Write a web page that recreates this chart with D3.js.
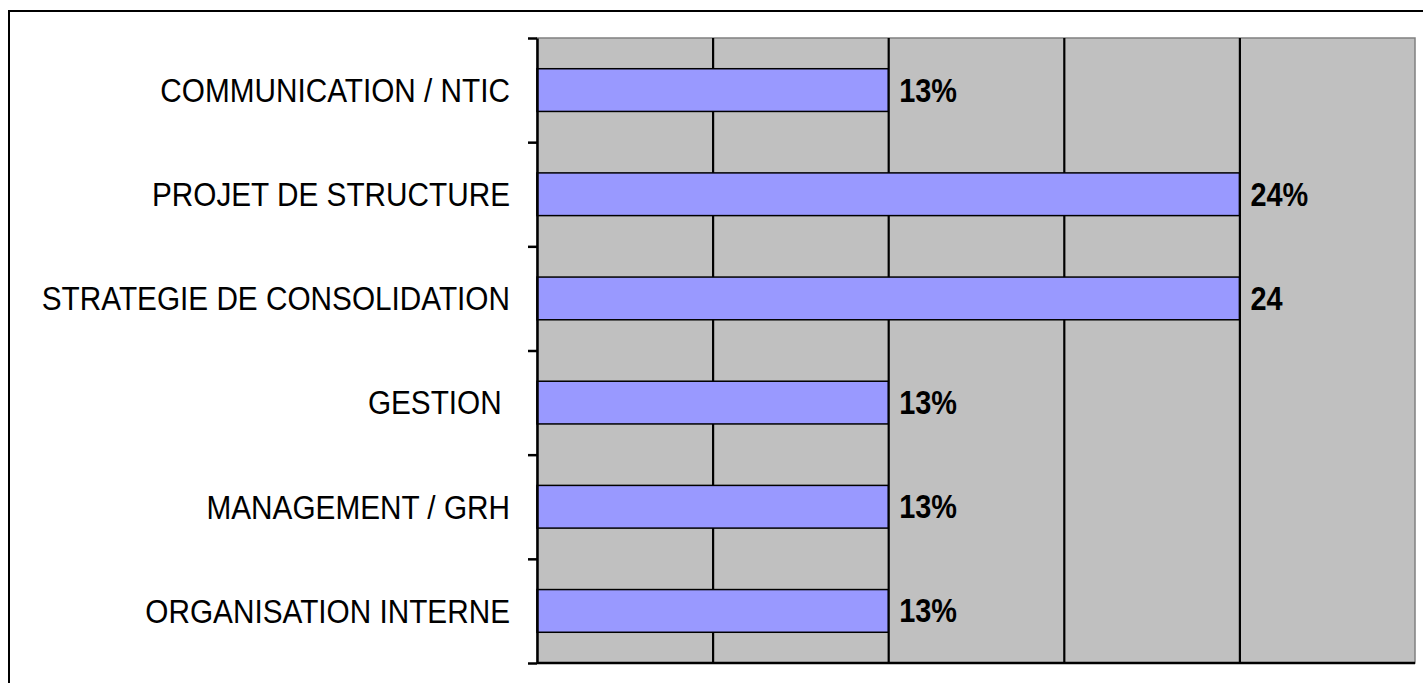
<!DOCTYPE html>
<html>
<head>
<meta charset="utf-8">
<script src="https://cdn.jsdelivr.net/npm/d3@7"></script>
<style>
  body { margin: 0; background: #fff; }
  text { font-family: Arial, "Liberation Sans", sans-serif; white-space: pre; }
</style>
</head>
<body>
<div id="chart"></div>
<script>

// categories top to bottom
const categories = ["COMMUNICATION / NTIC", "PROJET DE STRUCTURE", "STRATEGIE DE CONSOLIDATION", "GESTION ", "MANAGEMENT / GRH", "ORGANISATION INTERNE"];
// number of answers (bar lengths)
const counts = [2, 4, 4, 2, 2, 2];
// labels printed at bar ends
const valueLabels = ["13%", "24%", "24", "13%", "13%", "13%"];
const xMax = 5;

const width = 1423, height = 683;
const margin = { top: 38, right: 8, bottom: 20, left: 537 };
const w = 1415 - margin.left;
const h = 663 - margin.top;
const squeeze = 0.875;   // original text looks horizontally condensed

const svg = d3.select("#chart")
    .append("svg")
    .attr("width", width)
    .attr("height", height);

// outer frame (cut off at right / bottom like the original)
svg.append("rect")
    .attr("x", 9).attr("y", 11)
    .attr("width", 1430).attr("height", 700)
    .attr("fill", "none")
    .attr("stroke", "#000")
    .attr("stroke-width", 2);

const g = svg.append("g").attr("transform", `translate(${margin.left},${margin.top})`);

const x = d3.scaleLinear().domain([0, xMax]).range([0, w]);
const y = d3.scaleBand().domain(categories).range([0, h]).padding(0);
const yEdge = d3.scaleLinear().domain([0, categories.length]).range([0, h]);

// plot background
g.append("rect")
    .attr("width", w).attr("height", h)
    .attr("fill", "#c0c0c0")
    .attr("stroke", "#808080")
    .attr("stroke-width", 1.5);

// vertical gridlines
g.append("g")
    .attr("class", "grid")
    .attr("transform", `translate(0,${h})`)
    .call(d3.axisBottom(x).ticks(xMax).tickSize(-h).tickFormat("").tickSizeOuter(0))
    .call(g => g.select(".domain").remove())
    .call(g => g.selectAll(".tick line")
        .attr("stroke", "#000")
        .attr("stroke-width", 2.2)
        .filter(d => d === 0 || d === xMax).remove());

// bars
const barH = y.bandwidth() * 0.41;
g.selectAll("rect.bar")
    .data(categories)
    .enter()
    .append("rect")
    .attr("class", "bar")
    .attr("x", 0)
    .attr("y", d => y(d) + (y.bandwidth() - barH) / 2)
    .attr("width", (d, i) => x(counts[i]))
    .attr("height", barH)
    .attr("fill", "#9999ff")
    .attr("stroke", "#000")
    .attr("stroke-width", 1.5);

// value labels
g.selectAll("text.val")
    .data(categories)
    .enter()
    .append("text")
    .attr("class", "val")
    .attr("transform", (d, i) => `translate(${x(counts[i]) + 11},${y(d) + y.bandwidth() / 2}) scale(${squeeze},1)`)
    .attr("dy", "0.35em")
    .style("font-size", "33px")
    .style("font-weight", "bold")
    .text((d, i) => valueLabels[i]);

// bottom axis line
g.append("line")
    .attr("x1", 0).attr("x2", w)
    .attr("y1", h).attr("y2", h)
    .attr("stroke", "#000")
    .attr("stroke-width", 2.5);

// left axis with ticks between categories
g.append("g")
    .call(d3.axisLeft(yEdge).ticks(categories.length).tickFormat("").tickSize(9).tickSizeOuter(0))
    .call(g => g.selectAll("line, path").attr("stroke", "#000").attr("stroke-width", 2.5));

// category labels
g.selectAll("text.cat")
    .data(categories)
    .enter()
    .append("text")
    .attr("class", "cat")
    .attr("transform", d => `translate(-27,${y(d) + y.bandwidth() / 2}) scale(${squeeze},1)`)
    .attr("dy", "0.35em")
    .attr("text-anchor", "end")
    .style("font-size", "34px")
    .text(d => d);

</script>
</body>
</html>
